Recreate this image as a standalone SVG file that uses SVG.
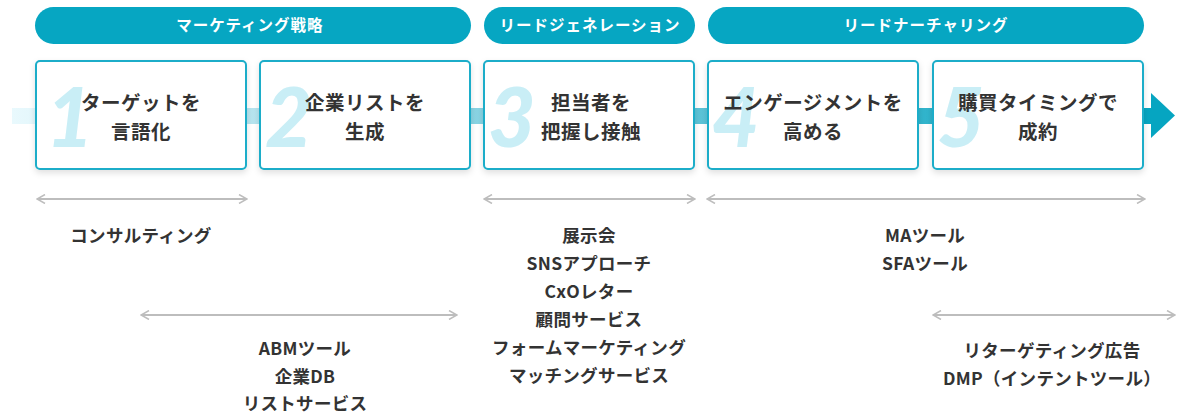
<svg xmlns="http://www.w3.org/2000/svg" width="1177" height="415" viewBox="0 0 1177 415">
<style>
.pill{fill:#06a6c2}
.ph{font-family:"Noto Sans CJK JP","Noto Sans",sans-serif;font-weight:700;font-size:15.5px;fill:#fff;text-anchor:middle;letter-spacing:1px}
.box{fill:#fff;stroke:#1badc9;stroke-width:2}
.num{font-family:Lato,"Open Sans",sans-serif;font-style:italic;font-weight:900;font-size:82px;fill:#c9eef6}
.bt{font-family:"Noto Sans CJK JP","Noto Sans",sans-serif;font-weight:700;font-size:19.5px;fill:#333;text-anchor:middle;letter-spacing:0.5px}
.lt{font-family:"Noto Sans CJK JP","Noto Sans",sans-serif;font-weight:700;font-size:17.5px;fill:#333;text-anchor:middle;letter-spacing:0.3px}
.rng{stroke:#bdbdbd;stroke-width:2;fill:none}
</style>
<defs>
<linearGradient id="band" x1="12" y1="0" x2="1152" y2="0" gradientUnits="userSpaceOnUse">
<stop offset="0" stop-color="#e9f9fd"/>
<stop offset="0.22" stop-color="#b3e3ee"/>
<stop offset="0.6" stop-color="#5cc3d7"/>
<stop offset="1" stop-color="#06a5c1"/>
</linearGradient>
<filter id="sh" x="-10%" y="-10%" width="120%" height="130%">
<feDropShadow dx="0" dy="3" stdDeviation="3" flood-color="#000" flood-opacity="0.12"/>
</filter>
<marker id="ah" viewBox="0 0 10 10" refX="9" refY="5" markerWidth="10" markerHeight="10" markerUnits="userSpaceOnUse" orient="auto-start-reverse">
<path d="M1,0.5 L9,5 L1,9.5" fill="none" stroke="#bdbdbd" stroke-width="1.5"/>
</marker>
</defs>
<rect width="1177" height="415" fill="#fff"/>

<g id="flow">
<rect x="12" y="108" width="1141" height="16" fill="url(#band)"/>
<polygon points="1151,93 1175,115.5 1151,138" fill="#06a5c1"/>
</g>

<g id="phase-marketing">
<rect class="pill" x="35" y="7" width="436" height="37" rx="18.5"/>
<text class="ph" x="250" y="31">マーケティング戦略</text>
</g>
<g id="phase-leadgen">
<rect class="pill" x="484" y="7" width="211" height="37" rx="18.5"/>
<text class="ph" x="590" y="31">リードジェネレーション</text>
</g>
<g id="phase-nurturing">
<rect class="pill" x="708" y="7" width="436" height="37" rx="18.5"/>
<text class="ph" x="926" y="31">リードナーチャリング</text>
</g>

<g id="step1">
<rect class="box" x="36" y="61" width="210" height="108" rx="4" filter="url(#sh)"/>
<text class="num" x="46" y="147">1</text>
<text class="bt" x="141" y="110">ターゲットを</text>
<text class="bt" x="141" y="139">言語化</text>
</g>
<g id="step2">
<rect class="box" x="260" y="61" width="210" height="108" rx="4" filter="url(#sh)"/>
<text class="num" x="265" y="147">2</text>
<text class="bt" x="365" y="110">企業リストを</text>
<text class="bt" x="365" y="139">生成</text>
</g>
<g id="step3">
<rect class="box" x="484" y="61" width="210" height="108" rx="4" filter="url(#sh)"/>
<text class="num" x="488" y="147">3</text>
<text class="bt" x="591" y="110">担当者を</text>
<text class="bt" x="591" y="139">把握し接触</text>
</g>
<g id="step4">
<rect class="box" x="708" y="61" width="210" height="108" rx="4" filter="url(#sh)"/>
<text class="num" x="712" y="147">4</text>
<text class="bt" x="813" y="110">エンゲージメントを</text>
<text class="bt" x="813" y="139">高める</text>
</g>
<g id="step5">
<rect class="box" x="933" y="61" width="210" height="108" rx="4" filter="url(#sh)"/>
<text class="num" x="937" y="147">5</text>
<text class="bt" x="1038" y="110">購買タイミングで</text>
<text class="bt" x="1038" y="139">成約</text>
</g>

<g id="connectors">
<line class="rng" x1="37" y1="199" x2="247" y2="199" marker-start="url(#ah)" marker-end="url(#ah)"/>
<line class="rng" x1="141" y1="315" x2="457" y2="315" marker-start="url(#ah)" marker-end="url(#ah)"/>
<line class="rng" x1="484" y1="199" x2="695" y2="199" marker-start="url(#ah)" marker-end="url(#ah)"/>
<line class="rng" x1="707" y1="199" x2="1145" y2="199" marker-start="url(#ah)" marker-end="url(#ah)"/>
<line class="rng" x1="933" y1="315" x2="1175" y2="315" marker-start="url(#ah)" marker-end="url(#ah)"/>
</g>

<g id="tools-consulting">
<text class="lt" x="141" y="242">コンサルティング</text>
</g>
<g id="tools-list">
<text class="lt" x="305" y="355">ABMツール</text>
<text class="lt" x="305" y="383">企業DB</text>
<text class="lt" x="305" y="410">リストサービス</text>
</g>
<g id="tools-leadgen">
<text class="lt" x="589" y="242">展示会</text>
<text class="lt" x="589" y="270">SNSアプローチ</text>
<text class="lt" x="589" y="298">CxOレター</text>
<text class="lt" x="589" y="326">顧問サービス</text>
<text class="lt" x="589" y="354">フォームマーケティング</text>
<text class="lt" x="589" y="382">マッチングサービス</text>
</g>
<g id="tools-nurturing">
<text class="lt" x="925" y="242">MAツール</text>
<text class="lt" x="925" y="270">SFAツール</text>
</g>
<g id="tools-retarget">
<text class="lt" x="1052" y="357">リターゲティング広告</text>
<text class="lt" x="1052" y="385">DMP（インテントツール）</text>
</g>
</svg>
